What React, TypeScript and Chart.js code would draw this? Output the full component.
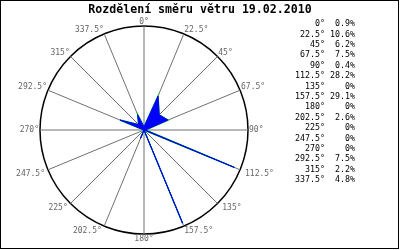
import React, { useEffect, useRef } from "react";
import { Chart, registerables } from "chart.js";

Chart.register(...registerables);

const TITLE = "Rozdělení směru větru 19.02.2010";
const directions = ["0°", "22.5°", "45°", "67.5°", "90°", "112.5°", "135°", "157.5°", "180°", "202.5°", "225°", "247.5°", "270°", "292.5°", "315°", "337.5°"];
const percents = [0.9, 10.6, 6.2, 7.5, 0.4, 28.2, 0, 29.1, 0, 2.6, 0, 0, 0, 7.5, 2.2, 4.8];
const percentLabels = ["0.9%", "10.6%", "6.2%", "7.5%", "0.4%", "28.2%", "0%", "29.1%", "0%", "2.6%", "0%", "0%", "0%", "7.5%", "2.2%", "4.8%"];
const SCALE_MAX = 30;

const MONO = '"DejaVu Sans Mono", "Liberation Mono", monospace';

const decorPlugin = {
  id: "decor",
  afterDraw(chart: any) {
    const ctx: CanvasRenderingContext2D = chart.ctx;
    const scale = chart.scales.r;
    ctx.save();
    // frame
    ctx.strokeStyle = "#000";
    ctx.lineWidth = 1;
    ctx.strokeRect(0.5, 0.5, 398, 248);
    // title
    ctx.fillStyle = "#000";
    ctx.font = `bold 11.6px ${MONO}`;
    ctx.textAlign = "center";
    ctx.textBaseline = "middle";
    ctx.fillText(TITLE, 200, 9.5);
    // point labels
    ctx.font = `8px ${MONO}`;
    ctx.fillStyle = "#666";
    directions.forEach((lab, i) => {
      const ang = i * 22.5;
      const p = scale.getPointPosition(i, scale.drawingArea + 1);
      let align: CanvasTextAlign = "center";
      if (ang !== 0 && ang !== 180) align = ang < 180 ? "left" : "right";
      let base: CanvasTextBaseline = "top";
      if (ang === 90 || ang === 270) base = "middle";
      else if (ang < 90 || ang > 270) base = "bottom";
      let x = p.x;
      if (ang > 90 && ang < 150) x += 4;
      if (ang > 200 && ang < 260) x -= 2;
      ctx.textAlign = align;
      ctx.textBaseline = base;
      ctx.fillText(lab, x, p.y + (base === "bottom" ? 1 : 0));
    });
    // legend table
    ctx.font = `8.3px ${MONO}`;
    ctx.fillStyle = "#000";
    ctx.textBaseline = "middle";
    directions.forEach((lab, i) => {
      const y = 24 + i * 10.4;
      ctx.textAlign = "right";
      ctx.fillText(lab, 325, y);
      ctx.fillText(percentLabels[i], 355, y);
    });
    ctx.restore();
  },
};

export default function App() {
  const ref = useRef<HTMLCanvasElement | null>(null);
  useEffect(() => {
    document.body.style.margin = "0";
    const canvas = ref.current;
    if (!canvas) return;
    const chart = new Chart(canvas, {
      type: "radar",
      data: {
        labels: directions,
        datasets: [
          {
            data: percents,
            fill: true,
            backgroundColor: "#0000ff",
            borderColor: "#0000ff",
            borderWidth: 1,
            pointRadius: 0,
            tension: 0,
          },
          {
            data: percents,
            fill: false,
            borderColor: "#00dd00",
            borderWidth: 1.4,
            pointRadius: 0,
            tension: 0,
          },
        ],
      },
      options: {
        responsive: false,
        devicePixelRatio: 1,
        animation: false,
        layout: { padding: { left: 40, top: 26, right: 152, bottom: 16 } },
        plugins: {
          legend: { display: false },
          tooltip: { enabled: false },
          title: { display: false },
        },
        scales: {
          r: {
            min: 0,
            max: SCALE_MAX,
            ticks: { display: false, stepSize: SCALE_MAX },
            grid: { display: true, circular: true, color: "#000", lineWidth: 1.5 },
            angleLines: { display: true, color: "#707070", lineWidth: 1 },
            pointLabels: { display: false },
          },
        },
      },
      plugins: [decorPlugin],
    });
    return () => chart.destroy();
  }, []);
  return (
    <div style={{ width: 400, height: 250, background: "#fff" }}>
      <canvas ref={ref} width={400} height={250} style={{ display: "block" }} />
    </div>
  );
}
